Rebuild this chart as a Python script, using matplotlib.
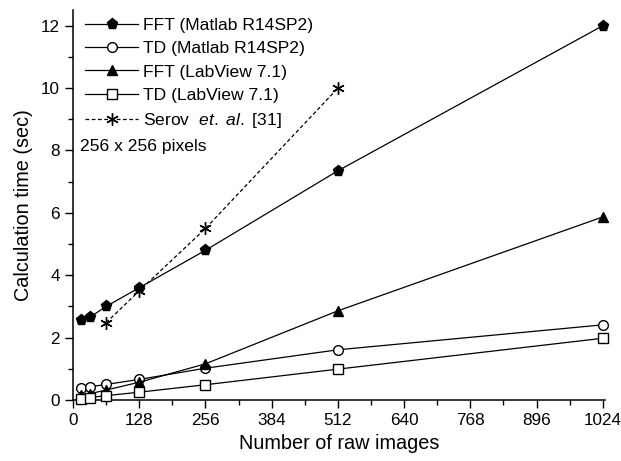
import matplotlib
matplotlib.use("Agg")
import matplotlib.pyplot as plt
from matplotlib.ticker import MultipleLocator

plt.rcParams['font.family'] = ['Liberation Sans', 'DejaVu Sans']
plt.rcParams['mathtext.fontset'] = 'custom'
plt.rcParams['mathtext.it'] = 'Liberation Sans:italic'
plt.rcParams['mathtext.rm'] = 'Liberation Sans'

# number of raw images
n_images = [16, 32, 64, 128, 256, 512, 1024]
fft_matlab = [2.56, 2.65, 3.0, 3.6, 4.8, 7.35, 12.0]
td_matlab = [0.38, 0.42, 0.5, 0.66, 1.02, 1.61, 2.41]
fft_labview = [0.16, 0.2, 0.32, 0.57, 1.16, 2.86, 5.87]
td_labview = [0.03, 0.08, 0.14, 0.25, 0.49, 0.99, 1.98]

serov_images = [64, 128, 256, 512]
serov_time = [2.48, 3.5, 5.5, 10.0]

fig = plt.figure(figsize=(6.21, 4.61), dpi=100)
ax = fig.add_axes([0.1176, 0.1323, 0.8564, 0.8457])

kw = dict(color='black', lw=0.9, clip_on=False, zorder=3)
ax.plot(n_images, fft_matlab, marker='p', ms=8, mfc='black', label='FFT (Matlab R14SP2)', **kw)
ax.plot(n_images, td_matlab, marker='o', ms=7, mfc='white', label='TD (Matlab R14SP2)', **kw)
ax.plot(n_images, fft_labview, marker='^', ms=7.5, mfc='black', label='FFT (LabView 7.1)', **kw)
ax.plot(n_images, td_labview, marker='s', ms=6.5, mfc='white', label='TD (LabView 7.1)', **kw)
ax.plot(serov_images, serov_time, marker=(6, 2, 0), ms=9, ls=(0, (3, 2)),
        label=r'Serov  $\it{et.\ al.}$ [31]', **kw)

ax.set_xlim(0, 1028)
ax.set_ylim(0, 12.5)
ax.xaxis.set_major_locator(MultipleLocator(128))
ax.xaxis.set_minor_locator(MultipleLocator(64))
ax.yaxis.set_major_locator(MultipleLocator(2))
ax.yaxis.set_minor_locator(MultipleLocator(1))
ax.tick_params(which='major', direction='out', length=6, width=1, labelsize=12.3)
ax.tick_params(which='minor', direction='out', length=3.5, width=1)

for side in ['top', 'right']:
    ax.spines[side].set_visible(False)
for side in ['left', 'bottom']:
    ax.spines[side].set_linewidth(1.1)

ax.set_xlabel('Number of raw images', fontsize=14.3)
ax.set_ylabel('Calculation time (sec)', fontsize=14.3, labelpad=6)

leg = ax.legend(loc='upper left', bbox_to_anchor=(0.0, 1.012), frameon=False,
                fontsize=12.6, handlelength=3.0, handletextpad=0.3,
                labelspacing=0.46, borderaxespad=0.3)
ax.text(0.013, 0.649, '256 x 256 pixels', transform=ax.transAxes, fontsize=12.6,
        va='center', ha='left')

fig.savefig('out.png', dpi=100)
